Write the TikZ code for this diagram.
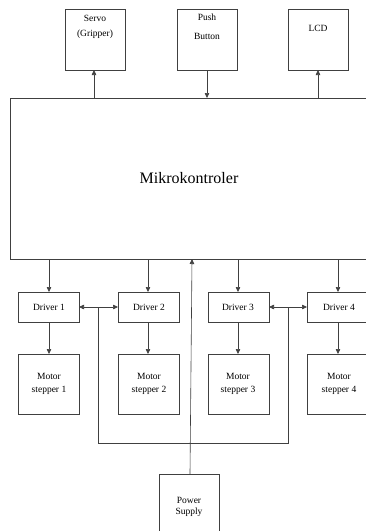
\documentclass[tikz,border=0pt]{standalone}
\usepackage{fontspec}
\setmainfont{Liberation Serif}
\usetikzlibrary{arrows.meta}
\begin{document}
\begin{tikzpicture}[x=1pt,y=-1pt,
  box/.style={draw=black!75,line width=0.6pt},
  lbl/.style={font=\fontsize{9.5}{11}\selectfont,align=center,inner sep=0pt},
  conn/.style={draw=black!75,line width=0.6pt},
  arr/.style={conn,-{Triangle[length=5pt,width=4.5pt]}},
  darr/.style={conn,{Triangle[length=5pt,width=4.5pt]}-{Triangle[length=5pt,width=4.5pt]}}]
\useasboundingbox (0,0) rectangle (366,531);
\fill[white] (0,0) rectangle (366,531);
\clip (0,0) rectangle (366,531);
% top boxes
\draw[box] (65,9) rectangle (125,70);
\draw[box] (177,9) rectangle (237,70);
\draw[box] (288,9) rectangle (348,70);
\node[lbl] (servo) at (95,18) {Servo};
\node[lbl] (grip) at (95,34) {(Gripper)};
\node[lbl] (push) at (207,17) {Push};
\node[lbl] (btn) at (207,36) {Button};
\node[lbl] (lcd) at (318,28) {LCD};
\coordinate (servoB) at (94,70);
\coordinate (pushB) at (207,70);
\coordinate (lcdB) at (318,70);
% main
\draw[box] (10,98) rectangle (372,259);
\node[font=\fontsize{16}{19}\selectfont,inner sep=0pt] (mk) at (189,178) {Mikrokontroler};
\coordinate (m1) at (94,98);
\coordinate (m2) at (207,98);
\coordinate (m3) at (318,98);
\draw[arr] (m1) -- (servoB);
\draw[arr] (pushB) -- (m2);
\draw[arr] (m3) -- (lcdB);
% drivers
\foreach \i/\xl/\xr in {1/18/79,2/118/179,3/208/269,4/307/369}{
  \draw[box] (\xl,292) rectangle (\xr,322);
  \draw[box] (\xl,354) rectangle (\xr,414);
  \coordinate (d\i) at ({(\xl+\xr)/2},307);
  \coordinate (dT\i) at ({(\xl+\xr)/2},292);
  \coordinate (dB\i) at ({(\xl+\xr)/2},322);
  \coordinate (mT\i) at ({(\xl+\xr)/2},354);
}
\node[lbl] (dr1) at (49,307) {Driver 1};
\node[lbl] (dr2) at (149,307) {Driver 2};
\node[lbl] (dr3) at (238,307) {Driver 3};
\node[lbl] (dr4) at (339,307) {Driver 4};
\node[lbl,font=\fontsize{9.5}{13}\selectfont] (ms1) at (49,384) {Motor\\stepper 1};
\node[lbl,font=\fontsize{9.5}{13}\selectfont] (ms2) at (149,384) {Motor\\stepper 2};
\node[lbl,font=\fontsize{9.5}{13}\selectfont] (ms3) at (238,384) {Motor\\stepper 3};
\node[lbl,font=\fontsize{9.5}{13}\selectfont] (ms4) at (339,384) {Motor\\stepper 4};
\coordinate (mb1) at (49,259);
\coordinate (mb2) at (148,259);
\coordinate (mb3) at (238,259);
\coordinate (mb4) at (338,259);
\draw[arr] (mb1) -- (49,292);
\draw[arr] (mb2) -- (148,292);
\draw[arr] (mb3) -- (238,292);
\draw[arr] (mb4) -- (338,292);
\draw[arr] (49,322) -- (49,354);
\draw[arr] (148,322) -- (148,354);
\draw[arr] (238,322) -- (238,354);
\draw[arr] (338,322) -- (338,354);
% double arrows
\coordinate (d1R) at (79,307);
\coordinate (d2L) at (118,307);
\coordinate (d3R) at (269,307);
\coordinate (d4L) at (307,307);
\draw[darr] (d1R) -- (d2L);
\draw[darr] (d3R) -- (d4L);
\coordinate (j1) at (98,307);
\coordinate (j2) at (288,307);
\coordinate (jb1) at (98,443);
\coordinate (jb2) at (288,443);
\draw[conn] (j1) -- (jb1) -- (jb2) -- (j2);
% power
\draw[box] (159,474) rectangle (219,540);
\node[lbl,font=\fontsize{9.5}{11}\selectfont] (ps) at (189,507) {Power\\Supply};
\coordinate (psT) at (190,474);
\coordinate (mbP) at (192,259);
\draw[arr] (psT) -- (mbP);
\end{tikzpicture}
\end{document}
